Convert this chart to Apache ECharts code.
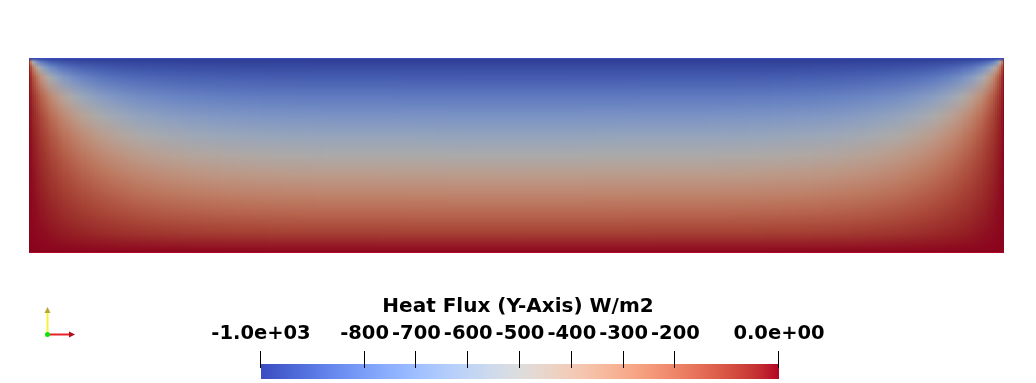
<!DOCTYPE html>
<html>
<head>
<meta charset="utf-8">
<script src="https://cdn.jsdelivr.net/npm/echarts@6/dist/echarts.min.js"></script>
<style>
html,body{margin:0;padding:0;background:#ffffff;}
#chart{width:1036px;height:383px;}
</style>
</head>
<body>
<div id="chart"></div>
<script>
// ---------------- data ----------------
// sample heights (fraction of plate height, 1 = top edge, 0 = bottom edge)
const heightStops = [1, 0.98, 0.95, 0.9, 0.8, 0.7, 0.6, 0.5, 0.4, 0.3, 0.2, 0.1, 0];
// plate: height 1, width 5
const plateWidth = 5;
// sample columns, distance from a side wall (plate is symmetric)
const wallSamplePos = [0, 0.005, 0.0175, 0.035, 0.0575, 0.085, 0.12, 0.165, 0.22, 0.285, 0.36, 0.45, 0.56, 0.69, 0.84, 1.01, 1.225, 1.525];
// heat flux (W/m2) in each sample column, one value per height stop (top -> bottom)
const wallSampleFlux = [
  [-1000, 0, 0, 0, 0, 0, 0, 0, 0, 0, 0, 0, 0],
  [-1000, -156, -63, -32, -15, -10, -7, -5, -4, -3, -2, -1, 0],
  [-1000, -457, -214, -109, -54, -34, -24, -17, -13, -9, -6, -3, 0],
  [-1000, -669, -388, -212, -107, -68, -48, -35, -25, -18, -11, -6, 0],
  [-1000, -786, -543, -329, -172, -111, -79, -57, -42, -29, -19, -9, 0],
  [-1000, -852, -659, -444, -247, -162, -115, -84, -61, -43, -27, -13, 0],
  [-1000, -894, -746, -551, -331, -223, -160, -117, -86, -60, -38, -19, 0],
  [-1000, -921, -808, -645, -422, -294, -214, -158, -116, -82, -52, -26, 0],
  [-1000, -940, -852, -717, -507, -368, -273, -204, -151, -107, -69, -33, 0],
  [-1000, -952, -882, -770, -581, -439, -334, -253, -189, -134, -86, -42, 0],
  [-1000, -961, -903, -809, -640, -502, -391, -301, -227, -162, -105, -52, 0],
  [-1000, -967, -918, -838, -688, -556, -444, -348, -265, -191, -124, -61, 0],
  [-1000, -972, -929, -860, -725, -602, -491, -391, -302, -220, -144, -71, 0],
  [-1000, -975, -937, -875, -753, -637, -528, -427, -333, -245, -161, -80, 0],
  [-1000, -977, -942, -885, -772, -662, -556, -455, -358, -265, -175, -87, 0],
  [-1000, -978, -946, -891, -784, -678, -574, -473, -375, -279, -185, -92, 0],
  [-1000, -979, -948, -896, -792, -689, -587, -486, -387, -289, -192, -96, 0],
  [-1000, -980, -949, -898, -797, -696, -595, -495, -395, -296, -197, -98, 0]
];
// centre of the plate
const centerPos = 2.5;
const centerFlux = [-1000, -980, -950, -900, -800, -700, -600, -500, -400, -300, -200, -100, 0];

// colour bar
const fluxMin = -1000, fluxMax = 0;
const tickValues = [-1000, -800, -700, -600, -500, -400, -300, -200, 0];
const tickLabels = ['-1.0e+03', '-800', '-700', '-600', '-500', '-400', '-300', '-200', '0.0e+00'];
const barTitle = 'Heat Flux (Y-Axis) W/m2';

// ---------------- colour map (Cool to Warm) ----------------
const coolWarm = [
  [59,76,192],[68,90,204],[77,104,215],[87,117,225],[98,130,234],[108,142,241],[119,154,247],[130,165,251],
  [141,176,254],[152,185,255],[163,194,255],[174,201,253],[184,208,249],[194,213,244],[204,217,238],[213,219,230],
  [221,221,221],[229,216,209],[236,211,197],[241,204,185],[245,196,173],[247,187,160],[247,177,148],[247,166,135],
  [244,154,123],[241,141,111],[236,127,99],[229,112,88],[222,96,77],[213,80,66],[203,62,56],[192,40,47],[180,4,38]
];
const FIELD_SHADE = 0.77;
function mapColor(t, shade) {
  t = Math.max(0, Math.min(1, t));
  const n = coolWarm.length - 1;
  const p = t * n, i = Math.min(n - 1, Math.floor(p)), f = p - i;
  const a = coolWarm[i], b = coolWarm[i + 1];
  const c = [0, 1, 2].map(k => Math.round((a[k] + (b[k] - a[k]) * f) * shade));
  return 'rgb(' + c.join(',') + ')';
}
function fluxColor(v, shade) {
  return mapColor((v - fluxMin) / (fluxMax - fluxMin), shade);
}

// ---------------- sample columns across the whole plate ----------------
const samplePos = [], sampleFlux = [];
wallSamplePos.forEach((p, i) => { samplePos.push(p); sampleFlux.push(wallSampleFlux[i]); });
samplePos.push(centerPos); sampleFlux.push(centerFlux);
for (let i = wallSamplePos.length - 1; i >= 0; i--) {
  samplePos.push(plateWidth - wallSamplePos[i]); sampleFlux.push(wallSampleFlux[i]);
}
// one cell between each pair of neighbouring sample columns
const fieldCells = [];
for (let i = 0; i < samplePos.length - 1; i++) {
  fieldCells.push([samplePos[i], samplePos[i + 1], i, i + 1]);
}

// smooth (Gouraud-like) shading of a cell: thin vertical strips whose colour
// blends the two bounding sample columns
function renderField(params, api) {
  const xa = api.value(0), xb = api.value(1);
  const A = sampleFlux[api.value(2)], B = sampleFlux[api.value(3)];
  const pa = api.coord([xa, 1]), pb = api.coord([xb, 0]);
  const top = pa[1], h = pb[1] - pa[1];
  const offsets = heightStops.map(eta => Math.max(0, Math.min(1, (api.coord([xa, eta])[1] - top) / h)));
  const span = pb[0] - pa[0];
  const n = Math.max(1, Math.round(span / 2));
  const children = [];
  for (let s = 0; s < n; s++) {
    const left = Math.round(pa[0] + span * s / n);
    const right = Math.round(pa[0] + span * (s + 1) / n);
    if (right <= left) continue;
    const w = (s + 0.5) / n;
    const stops = heightStops.map((eta, i) => ({
      offset: offsets[i],
      color: fluxColor(A[i] * (1 - w) + B[i] * w, FIELD_SHADE)
    }));
    children.push({
      type: 'rect',
      shape: { x: left, y: top, width: right - left, height: h },
      style: { fill: { type: 'linear', x: 0, y: 0, x2: 0, y2: 1, colorStops: stops } }
    });
    // plate outline (unlit) along top and bottom edges
    children.push({ type: 'rect', shape: { x: left, y: top, width: right - left, height: 1 },
      style: { fill: fluxColor(A[0] * (1 - w) + B[0] * w, 1) } });
    children.push({ type: 'rect', shape: { x: left, y: top + h - 1, width: right - left, height: 1 },
      style: { fill: fluxColor(A[A.length - 1] * (1 - w) + B[B.length - 1] * w, 1) } });
  }
  return { type: 'group', children: children };
}

function renderBar(params, api) {
  const a = api.coord([api.value(0), 1]);
  const b = api.coord([api.value(1), 0]);
  const stops = coolWarm.map((c, i) => ({
    offset: i / (coolWarm.length - 1),
    color: 'rgb(' + c.join(',') + ')'
  }));
  const children = [{
    type: 'rect',
    shape: { x: a[0], y: a[1], width: b[0] - a[0], height: b[1] - a[1] },
    style: { fill: { type: 'linear', x: 0, y: 0, x2: 1, y2: 0, colorStops: stops } }
  }];
  tickValues.forEach(v => {
    const p = api.coord([v, 1]);
    const x = Math.round(p[0]) - 0.5;
    children.push({ type: 'line', shape: { x1: x, y1: p[1] - 13, x2: x, y2: p[1] + 4 },
      style: { stroke: '#000', lineWidth: 1 } });
  });
  return { type: 'group', children: children };
}

const labelFont = { fontFamily: 'DejaVu Sans', fontWeight: 'bold', fontSize: 19.5, color: '#000' };

const option = {
  backgroundColor: '#ffffff',
  animation: false,
  title: {
    text: barTitle, left: 'center', top: 297, padding: 0,
    textStyle: { fontFamily: 'DejaVu Sans', fontWeight: 'bold', fontSize: 20, color: '#000' }
  },
  grid: [
    { left: 29, right: 32, top: 58, bottom: 130 },
    { left: 261, right: 257, top: 364, height: 15 }
  ],
  xAxis: [
    { type: 'value', gridIndex: 0, min: 0, max: plateWidth, show: false },
    {
      type: 'value', gridIndex: 1, min: fluxMin, max: fluxMax, position: 'top',
      axisLine: { show: false }, splitLine: { show: false }, axisTick: { show: false },
      axisLabel: Object.assign({
        customValues: tickValues, margin: 20,
        formatter: v => tickLabels[tickValues.indexOf(v)] || ''
      }, labelFont)
    }
  ],
  yAxis: [
    { type: 'value', gridIndex: 0, min: 0, max: 1, show: false },
    { type: 'value', gridIndex: 1, min: 0, max: 1, show: false }
  ],
  series: [
    { type: 'custom', xAxisIndex: 0, yAxisIndex: 0, silent: true, data: fieldCells, renderItem: renderField },
    { type: 'custom', xAxisIndex: 1, yAxisIndex: 1, silent: true, data: [[fluxMin, fluxMax]], renderItem: renderBar }
  ],
  graphic: [
    { type: 'line', shape: { x1: 48, y1: 334.5, x2: 70, y2: 334.5 }, style: { stroke: '#e8202a', lineWidth: 2 } },
    { type: 'polygon', shape: { points: [[69, 331.5], [75, 334.5], [69, 337.5]] }, style: { fill: '#b01015' } },
    { type: 'line', shape: { x1: 47.5, y1: 334, x2: 47.5, y2: 312 }, style: { stroke: '#f4f43a', lineWidth: 2 } },
    { type: 'polygon', shape: { points: [[44.5, 313], [47.5, 307], [50.5, 313]] }, style: { fill: '#b8a830' } },
    { type: 'circle', shape: { cx: 47.5, cy: 334.5, r: 2.5 }, style: { fill: '#10e010' } }
  ]
};

const chart = echarts.init(document.getElementById('chart'), null, { renderer: 'canvas' });
chart.setOption(option);
</script>
</body>
</html>
